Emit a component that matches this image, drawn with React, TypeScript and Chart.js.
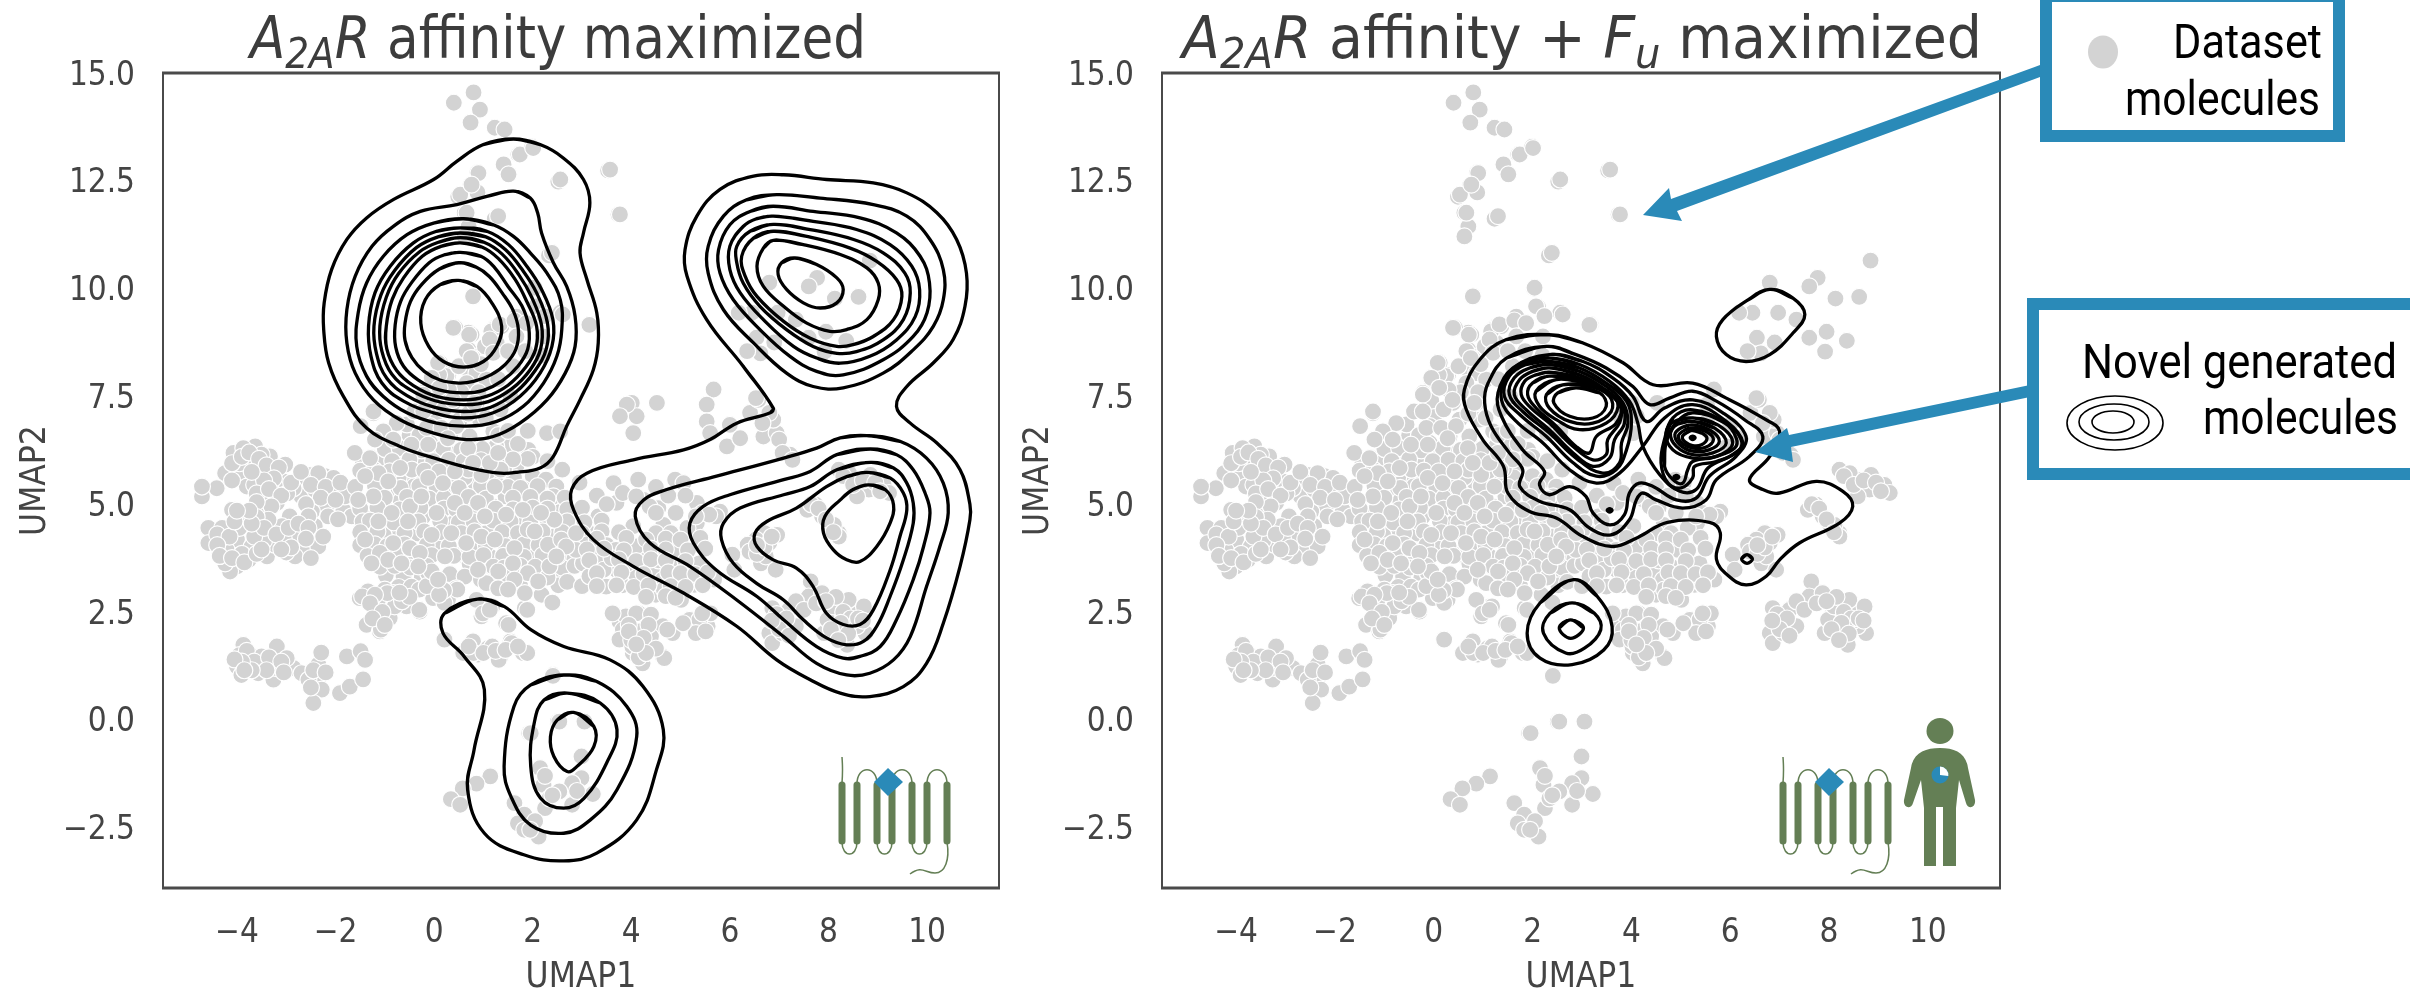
import React, { useEffect, useRef } from "react";
import { Chart, registerables } from "chart.js";

Chart.register(...registerables);

type Pt = number[];

const xTickValues = [-4, -2, 0, 2, 4, 6, 8, 10];
const yTickValues = [-2.5, 0, 2.5, 5, 7.5, 10, 12.5, 15];
const xRange = [-5.5, 11.46];
const yRange = [-3.9, 15];

// ---------- dataset molecules (same in both panels) ----------
const topPlume: Pt[] = [[0.8,14.55],[0.4,14.31],[0.93,14.15],[0.74,13.85],[1.23,13.73],[1.43,13.69],[1.99,13.29],[1.71,13.11],[1.41,12.88],[1.51,12.65],[0.88,12.69],[0.74,12.41],[0.88,12.23],[0.49,12.13],[2.52,12.48],[3.53,12.74],[0.62,11.76],[1.23,11.62],[3.74,11.72],[0.7,11.44],[0.62,11.21],[2.33,10.77],[8.84,10.65],[2.03,10.0],[0.8,9.81],[7.77,10.25],[7.6,10.05],[6.8,10.14],[8.13,9.77],[8.61,9.81],[7.95,9.0],[7.6,8.86],[8.36,8.79],[7.92,8.54],[6.54,8.86],[6.45,9.44],[6.97,9.44],[6.18,9.44],[7.34,9.28],[3.18,9.16],[2.56,9.44],[2.11,9.58],[1.67,9.35],[1.23,9.09],[0.4,9.07],[0.7,8.98],[0.09,8.28],[6.54,7.47],[6.62,8.5],[6.9,8.75],[6.35,8.55]];
const upperCentre: Pt[] = [[0.79,9.82],[2.04,10.02],[0.39,9.09],[0.71,8.93],[1.16,9.01],[1.33,9.17],[1.63,9.26],[1.87,9.2],[2.07,9.59],[2.24,9.36],[2.61,9.4],[3.15,9.16],[0.66,8.55],[0.79,8.39],[0.12,8.28],[-0.05,7.89],[0.25,7.97],[-0.22,7.58],[0.39,7.35],[0.86,7.35],[0.86,8.04],[1.13,8.82],[1.67,8.89],[2.21,8.89],[0.66,7.81],[0.05,7.12],[0.52,6.96],[-0.08,6.81],[-0.08,6.42],[0.32,6.57],[0.72,6.57],[1.13,5.96],[0.66,5.96],[0.12,5.88],[-0.15,5.57],[0.32,5.41],[0.76,5.49],[1.26,5.49],[0.18,4.8],[0.66,4.95],[1.2,4.95],[1.67,4.87],[2.14,4.64],[2.48,4.87],[1.6,4.33],[1.06,4.33],[0.66,4.49],[1.94,4.18],[2.41,4.25],[2.88,3.71],[1.67,3.63],[2.28,3.63],[1.13,3.79],[2.0,5.65],[2.27,5.57],[2.48,5.41],[3.83,5.26],[4.1,5.18],[1.67,5.88],[1.26,6.34],[0.93,6.96],[1.06,7.89],[1.2,8.51],[6.53,7.46],[6.8,7.12],[6.66,6.88],[7.0,6.5],[7.07,6.19],[7.27,6.03],[4.37,4.95],[5.72,4.72],[5.44,4.8]];
const leftPanelHints: Pt[] = [[3.57,12.76],[3.77,11.72],[2.56,12.53],[1.74,13.11],[2.01,13.26],[0.9,12.68],[0.53,12.18],[0.76,12.41],[0.66,11.76],[1.3,11.68],[2.39,10.83],[0.8,9.82],[3.16,9.16],[0.43,9.09],[0.76,8.93],[1.2,9.05],[0.7,8.58],[0.8,8.43],[1.37,9.13],[1.03,8.66],[1.27,8.74],[0.29,8.0],[0.73,8.04],[-1.23,7.11],[-1.6,6.19],[-1.26,6.07],[-0.96,6.65],[-0.45,6.42],[2.29,6.65],[1.54,6.38],[1.91,6.26],[1.2,6.69],[2.56,6.69],[3.77,7.04],[4.01,7.35],[4.11,7.04],[4.04,6.65],[0.73,6.38],[1.07,6.26],[3.91,7.31],[4.52,7.35],[3.77,7.04],[5.67,7.66],[5.53,7.31],[5.53,6.92],[5.6,6.65],[5.94,6.34],[6.0,6.84],[6.41,7.12],[6.58,7.42],[6.68,6.57],[6.21,6.53],[6.95,6.65],[6.88,6.96],[7.22,6.15],[3.64,5.49],[4.14,5.57],[4.89,5.57],[5.06,5.49],[5.33,5.03],[4.55,4.91],[4.65,4.52],[3.33,4.72],[3.7,5.03],[4.25,5.1],[4.04,4.49],[5.33,4.56],[5.8,4.83]];
const westUpper: Pt[] = [[-4.71,5.18],[-4.41,5.37],[-4.71,5.41],[-4.24,5.72],[-3.9,5.65],[-4.07,6.19],[-3.73,6.03],[-3.63,6.34],[-3.87,6.3],[-3.33,6.11],[-3.23,5.76],[-3.06,5.53],[-3.02,5.92],[-3.56,5.72],[-3.8,5.41],[-3.43,5.18],[-3.19,5.03],[-3.5,4.91],[-2.55,5.68],[-2.21,5.65],[-2.04,5.61],[-2.35,5.72],[-2.75,5.53],[-2.69,5.18],[-2.18,4.95],[-2.48,4.83],[-1.84,4.86],[-1.67,4.72],[-1.94,5.3],[-2.85,5.37],[-2.42,5.34],[-1.81,5.18],[-3.95,5.95],[-3.5,6.15],[-3.32,5.45],[-3.65,5.45],[-2.98,5.25],[-4.1,5.55],[-4.1,5.95],[-3.9,6.1],[-3.75,6.2],[-3.55,6.05],[-3.4,5.9],[-3.15,5.85],[-3.25,5.6],[-3.45,5.55],[-3.7,5.75],[-3.6,5.25],[-3.35,5.35],[-3.1,5.2],[-3.3,4.95],[-3.6,5.05],[-2.9,5.5],[-2.7,5.75],[-2.5,5.45],[-2.2,5.4],[-2.3,5.15],[-2.0,5.1],[-1.9,5.5],[-2.6,5.0],[-2.15,4.72],[-1.95,4.65],[-1.5,4.95]];
const westLower: Pt[] = [[-3.9,4.72],[-4.1,4.87],[-3.56,4.37],[-4.58,4.45],[-4.58,4.1],[-4.3,4.45],[-4.0,4.18],[-4.21,3.94],[-3.76,3.71],[-4.0,3.56],[-4.14,3.44],[-3.39,3.79],[-3.23,4.06],[-2.93,4.72],[-2.79,4.22],[-2.62,3.94],[-2.35,4.02],[-2.42,4.49],[-3.09,4.49],[-3.7,4.02],[-3.36,4.64],[-4.24,3.63],[-3.83,4.49],[-2.55,4.72],[-2.82,3.79],[-4.35,4.18],[-3.95,4.45],[-3.6,4.7],[-3.45,4.15],[-3.05,4.2],[-3.0,3.88],[-3.9,3.85],[-4.4,4.3],[-4.15,4.25],[-4.4,4.05],[-4.35,3.8],[-4.1,3.75],[-3.85,3.65],[-3.6,3.85],[-3.65,4.25],[-3.45,4.45],[-3.7,4.55],[-4.05,4.6],[-3.75,4.85],[-4.0,4.85],[-3.2,4.3],[-2.95,4.45],[-2.75,4.55],[-2.55,4.45],[-2.6,4.2],[-2.9,4.0],[-2.25,4.25],[-2.5,3.75],[-3.1,3.95],[-3.5,3.95]];
const southWest: Pt[] = [[-3.87,1.74],[-3.73,1.51],[-3.8,1.28],[-4.0,1.24],[-3.46,1.31],[-3.19,1.7],[-3.5,1.47],[-3.26,0.93],[-2.85,1.2],[-2.99,1.43],[-3.57,1.08],[-3.91,1.04],[-2.69,1.08],[-2.35,1.28],[-2.29,1.56],[-2.35,0.93],[-2.55,0.93],[-2.28,0.7],[-1.91,0.62],[-1.71,0.77],[-1.44,0.94],[-2.45,0.39],[-1.77,1.47],[-1.49,1.59],[-1.4,1.39],[-3.2,1.2],[-3.95,1.5],[-3.8,1.6],[-3.65,1.35],[-3.35,1.45],[-3.1,1.35],[-3.4,1.15],[-3.7,1.15],[-3.05,1.1],[-2.45,1.15],[-2.2,1.1],[-2.5,0.75],[-3.9,1.35],[-4.05,1.4],[-3.85,1.15]];
const centralSouth: Pt[] = [[-1.34,2.98],[-1.51,2.82],[-1.0,3.02],[-1.14,2.78],[-0.82,2.94],[-1.37,2.2],[-1.1,2.05],[-0.9,2.36],[-1.2,2.55],[-0.56,2.63],[-0.29,2.51],[-0.8,2.63],[-0.36,3.02],[-0.02,2.82],[0.28,2.78],[0.45,3.05],[0.08,3.13],[-0.12,3.4],[-0.46,3.09],[0.2,1.86],[0.59,1.55],[0.79,1.82],[0.89,1.51],[1.09,1.66],[1.35,1.47],[1.55,1.82],[1.8,1.55],[1.46,2.24],[1.84,2.59],[1.13,2.63],[0.86,2.78],[0.96,2.4],[2.41,1.04],[1.93,-0.31],[2.51,-0.04],[0.21,1.86],[0.8,1.55],[1.18,1.7],[1.57,1.78],[1.31,1.39],[1.89,1.55],[0.99,2.47],[1.18,2.63],[1.51,2.2],[1.89,2.55],[0.47,3.02],[-0.3,2.55],[-1.08,2.09],[-1.46,2.86],[-0.95,2.94],[-0.3,3.02],[0.21,2.71],[3.76,2.28],[4.15,2.47],[-1.2,2.9],[-1.3,2.7],[-1.05,2.5],[-1.25,2.35],[-1.0,2.2],[-0.65,2.75],[-0.5,2.85],[-0.15,3.1],[0.2,3.0],[0.1,2.9],[-0.7,2.95],[0.7,1.7],[1.0,1.55],[1.25,1.6],[1.45,1.62],[1.7,1.7]];
const centralBlock: Pt[] = [[0.08,8.28],[-0.05,7.93],[-0.22,7.54],[0.38,7.42],[0.11,7.7],[-0.22,7.15],[-1.23,7.15],[-1.49,6.81],[-0.76,6.88],[-1.03,6.69],[-1.2,6.5],[-0.83,6.5],[-0.46,6.38],[-0.12,6.38],[-0.15,6.77],[0.15,6.77],[0.45,6.81],[0.28,6.53],[0.69,6.3],[0.82,7.35],[0.75,8.39],[-1.61,6.19],[-1.3,6.07],[-0.69,5.84],[-1.13,5.72],[-1.4,5.65],[-0.93,5.53],[-0.12,5.61],[0.18,5.49],[0.42,5.76],[0.96,5.68],[1.13,5.96],[0.79,5.96],[1.3,6.19],[-1.23,5.18],[-1.54,5.1],[-0.86,4.8],[-0.49,4.95],[0.05,4.8],[-0.26,5.18],[0.42,5.03],[0.89,5.03],[1.23,5.41],[1.46,4.76],[1.03,4.72],[0.62,4.8],[-1.13,4.6],[-0.53,4.6],[-0.05,4.29],[0.35,4.33],[0.65,4.1],[0.96,4.25],[1.23,4.18],[1.63,3.98],[1.9,4.41],[2.31,4.06],[2.04,4.37],[2.44,4.64],[1.8,4.87],[2.17,4.8],[-1.4,4.18],[-0.83,4.1],[-0.49,3.98],[-1.1,3.87],[-1.27,3.63],[-0.93,3.71],[-0.66,3.63],[-0.29,3.87],[0.22,3.79],[-0.05,3.44],[-0.32,3.56],[0.08,3.25],[1.6,3.63],[1.3,3.44],[1.06,3.17],[0.89,3.48],[1.9,3.4],[1.63,3.25],[1.3,3.05],[2.11,3.21],[2.34,3.56],[1.13,2.55],[1.5,3.02],[1.84,2.94],[2.51,3.79]];
const centralGaps: Pt[] = [[-0.55,6.18],[-0.28,6.02],[0.08,6.15],[0.48,6.2],[-0.98,6.18],[-0.42,5.62],[-0.72,5.3],[-0.4,5.42],[0.02,5.28],[0.55,5.28],[-1.02,5.02],[-0.68,5.08],[-0.22,4.72],[0.3,4.72],[0.38,4.55],[-0.32,4.32],[-0.72,4.38],[-1.02,4.28],[-1.32,4.78],[0.1,4.05],[0.48,3.82],[0.72,3.62],[1.42,4.42],[1.68,4.58],[1.45,5.18],[1.82,5.35],[1.62,5.62],[1.42,5.82],[1.9,6.05],[-0.98,3.35],[-0.62,3.32],[-0.72,3.08],[0.32,3.38],[0.62,3.32],[1.12,3.48],[1.52,3.52],[2.05,3.82],[2.62,3.42],[2.52,3.12],[2.18,2.9],[2.4,2.72],[-0.72,5.62],[-1.08,6.0],[-0.3,6.6],[0.62,5.62],[2.1,5.12],[2.42,5.18],[2.8,4.62],[3.1,4.38],[2.72,4.28]];
const centralRowsUpper: Pt[] = [[-1.0,6.28],[-0.7,6.3],[-0.25,6.25],[0.18,6.3],[0.55,6.26],[0.98,6.28],[-1.45,6.02],[-0.85,6.0],[-0.5,6.04],[-0.02,6.0],[0.3,6.03],[0.6,6.0],[0.95,6.02],[1.35,6.0],[1.6,6.04],[-1.5,5.78],[-1.22,5.8],[-0.9,5.76],[-0.45,5.8],[-0.2,5.78],[0.1,5.76],[0.7,5.8],[1.1,5.76],[1.35,5.8],[-1.6,5.4],[-1.2,5.42],[-0.68,5.38],[-0.3,5.42],[0.05,5.4],[0.5,5.38],[0.95,5.42],[1.5,5.4],[1.75,5.38],[2.1,5.42],[-1.0,5.15],[-0.55,5.17],[-0.1,5.13],[0.2,5.15],[0.7,5.17],[1.05,5.13],[1.6,5.15],[1.95,5.17],[2.3,5.13],[2.65,5.15],[-1.5,4.9],[-1.15,4.92],[-0.7,4.88],[-0.28,4.92],[0.2,4.9],[0.45,4.88],[0.85,4.92],[1.25,4.9],[1.6,4.88],[2.0,4.92],[2.3,4.9],[2.7,4.88],[3.0,4.92]];
const centralRowsLower: Pt[] = [[-1.45,4.6],[-1.3,4.62],[-0.82,4.58],[-0.32,4.6],[0.12,4.62],[0.5,4.58],[0.8,4.6],[1.2,4.62],[1.55,4.6],[1.95,4.58],[2.3,4.62],[2.7,4.6],[3.05,4.58],[3.4,4.62],[-1.5,4.35],[-1.15,4.37],[-0.6,4.33],[-0.2,4.37],[0.15,4.35],[0.55,4.33],[0.82,4.37],[1.38,4.35],[1.7,4.33],[2.2,4.37],[2.6,4.35],[3.0,4.33],[3.4,4.37],[3.75,4.35],[-1.5,4.05],[-1.2,4.07],[-0.95,4.03],[-0.6,4.07],[-0.15,4.05],[0.3,4.03],[0.85,4.07],[1.05,4.05],[1.45,4.03],[1.82,4.07],[2.12,4.05],[2.5,4.03],[3.1,4.07],[3.5,4.05],[-1.35,3.8],[-0.75,3.82],[-0.45,3.78],[-0.05,3.82],[0.4,3.8],[0.72,3.78],[1.0,3.82],[1.4,3.8],[1.82,3.78],[2.2,3.82],[2.7,3.8],[3.1,3.78],[-1.1,3.55],[-0.8,3.57],[-0.48,3.53],[-0.15,3.57],[1.2,3.55],[1.42,3.53],[1.75,3.57],[2.05,3.55],[2.6,3.53],[2.85,3.57],[3.25,3.55],[3.6,3.53],[-0.25,3.3],[0.95,3.25],[1.2,3.2],[1.45,3.3],[1.75,3.1],[2.3,3.3],[2.7,3.2],[3.0,3.1]];
const upperFill: Pt[] = [[-0.5,6.6],[-0.55,6.85],[-0.4,7.15],[-0.05,7.4],[0.2,7.2],[0.55,7.6],[0.3,7.65],[0.1,8.0],[-0.9,6.25],[1.5,6.0],[1.3,6.6],[1.05,7.0],[1.5,6.7],[1.7,6.4],[1.9,6.7],[2.0,6.1],[2.3,6.0],[0.9,7.6],[0.7,7.1],[1.35,7.2],[1.55,7.5],[1.3,7.9],[1.6,8.2],[0.95,8.25],[0.5,8.2],[1.5,8.55],[1.85,8.55],[2.2,8.45],[2.6,5.8],[2.95,5.5],[3.3,5.2],[3.5,5.0],[4.5,5.4],[4.75,5.2],[5.1,5.2]];
const midEast: Pt[] = [[4.47,3.36],[4.8,3.56],[5.14,3.56],[4.94,3.94],[5.28,3.13],[5.68,3.25],[5.01,2.78],[4.1,3.36],[4.23,3.02],[4.5,2.9],[5.38,3.63],[5.45,3.25],[5.14,3.17],[4.64,3.25],[4.26,3.71],[3.93,3.63],[3.69,3.48],[3.42,3.44],[3.29,3.79],[3.02,3.63],[3.49,3.09],[3.15,3.33],[2.88,3.94],[2.58,4.18],[2.68,4.02],[2.48,3.79],[4.5,4.33],[4.8,4.33],[5.14,4.45],[5.58,4.76],[5.31,4.72],[4.9,4.8],[4.5,4.8],[4.1,4.02],[3.69,3.94],[3.29,4.02],[2.88,4.33],[3.44,3.48],[3.82,3.12],[3.6,3.75],[4.55,3.7],[4.92,3.28],[4.66,3.02],[3.3,4.2],[3.9,4.22],[4.3,4.18],[4.7,4.2],[5.0,4.18],[5.4,4.22],[3.1,3.95],[3.45,3.97],[3.85,3.93],[4.4,3.97],[4.7,3.95],[5.15,3.93],[5.5,3.97],[3.15,3.7],[3.75,3.72],[4.1,3.68],[4.4,3.72],[4.7,3.7],[5.1,3.68],[3.3,3.4],[3.8,3.42],[4.25,3.38],[4.75,3.42],[5.0,3.4],[5.3,3.38],[5.55,3.42],[3.3,3.1],[3.7,3.12],[4.05,3.08],[4.35,3.12],[4.8,3.1],[5.1,3.08],[5.45,3.12],[4.3,2.85],[4.7,2.87],[4.9,2.83]];
const southCentre: Pt[] = [[5.45,2.47],[5.18,2.32],[5.55,2.17],[5.61,2.47],[5.38,2.32],[5.31,2.01],[4.16,2.05],[3.89,2.4],[4.1,2.47],[4.4,2.44],[4.64,2.17],[4.84,2.01],[4.2,1.62],[4.64,1.47],[4.03,1.55],[4.23,1.31],[3.62,2.47],[3.83,2.09],[4.4,1.93],[3.76,1.86],[4.22,1.59],[4.67,1.43],[4.02,1.7],[4.73,2.09],[5.44,2.47],[5.51,2.05],[5.05,2.24],[3.95,2.2],[4.35,2.2],[4.0,1.85],[4.25,1.9],[4.5,1.65],[4.15,1.45],[3.95,2.05],[4.3,1.55],[4.1,1.75]];
const northEast: Pt[] = [[8.21,5.8],[8.58,5.57],[8.82,5.34],[9.12,5.45],[9.23,5.26],[8.85,5.68],[8.42,5.72],[8.58,5.18],[7.74,4.99],[7.57,4.87],[8.0,4.56],[8.21,4.33],[7.87,4.72],[8.11,4.52],[8.21,4.25],[6.7,4.33],[6.53,4.18],[6.96,4.29],[6.36,4.06],[6.05,3.83],[6.63,3.63],[6.8,4.1],[6.09,3.48],[6.93,3.48],[6.73,3.79],[6.4,3.9],[6.55,3.85],[6.7,4.0],[6.85,4.25],[6.55,4.05],[7.65,5.0],[7.8,4.9],[7.95,4.65],[8.1,4.35],[8.3,5.65],[8.5,5.45],[8.7,5.55],[8.95,5.5],[9.05,5.3]];
const southEast: Pt[] = [[7.07,2.24],[6.86,2.59],[7.2,2.55],[6.8,2.01],[7.34,2.17],[7.64,3.21],[7.6,2.86],[7.87,2.94],[8.08,2.59],[8.58,2.55],[8.41,2.78],[8.72,2.63],[8.25,2.05],[7.91,2.01],[8.38,1.74],[8.75,2.01],[8.58,2.17],[7.98,2.32],[7.34,2.75],[6.86,1.78],[7.07,2.01],[6.95,2.32],[8.1,2.63],[8.5,2.3],[6.95,2.45],[7.15,2.35],[7.0,2.1],[6.85,2.3],[7.2,1.95],[7.5,2.55],[7.75,2.7],[8.15,2.85],[8.3,2.5],[8.45,2.35],[8.25,2.25],[8.05,2.1],[8.6,2.35],[8.4,2.0],[7.95,2.75],[8.7,2.3],[8.2,1.85]];
const bottomCluster: Pt[] = [[2.54,-0.04],[3.05,-0.04],[1.96,-0.31],[2.99,-0.85],[2.15,-1.12],[2.99,-1.35],[2.22,-1.51],[2.8,-1.47],[3.22,-1.72],[2.54,-1.66],[1.14,-1.31],[0.86,-1.48],[0.58,-1.59],[0.34,-1.84],[0.53,-1.97],[1.63,-1.93],[2.8,-1.97],[2.25,-2.05],[1.83,-2.2],[1.7,-2.4],[1.83,-2.55],[2.12,-2.71],[2.41,1.02],[2.34,-1.82],[2.25,-1.3],[2.4,-1.75],[2.9,-1.65],[2.05,-2.35],[1.95,-2.55]];

// ---------- A2AR affinity maximized: contour rings ----------
const affinityPeakWest: Pt[][] = [
  [[1.61,13.47],[2.15,13.34],[2.62,13.03],[3.03,12.53],[3.16,11.99],[3.03,11.29],[2.96,10.83],[3.1,10.21],[3.3,9.44],[3.33,8.74],[3.23,8.12],[2.96,7.42],[2.69,6.81],[2.42,6.11],[2.15,5.84],[1.68,5.74],[1.34,5.72],[0.8,5.82],[0.12,6.03],[-0.69,6.34],[-1.37,6.77],[-1.84,7.5],[-2.14,8.28],[-2.24,9.05],[-2.23,9.67],[-2.08,10.44],[-1.77,11.14],[-1.37,11.64],[-0.82,12.07],[-0.01,12.53],[0.46,12.95],[1.0,13.34]],
  [[1.61,12.26],[1.95,12.1],[2.1,11.76],[2.18,11.29],[2.42,10.6],[2.69,10.05],[2.86,9.36],[2.86,8.66],[2.66,8.04],[2.29,7.42],[1.74,6.88],[1.2,6.57],[0.66,6.5],[-0.01,6.65],[-0.69,6.96],[-1.23,7.42],[-1.6,8.04],[-1.77,8.74],[-1.77,9.51],[-1.6,10.29],[-1.26,10.98],[-0.82,11.45],[-0.28,11.79],[0.46,11.95],[1.07,12.14]],
  [[0.6,11.62],[1.2,11.48],[1.61,11.21],[1.95,10.83],[2.29,10.36],[2.56,9.74],[2.59,9.05],[2.49,8.43],[2.22,7.81],[1.81,7.27],[1.27,6.92],[0.66,6.81],[0.05,6.88],[-0.55,7.12],[-1.03,7.5],[-1.37,7.97],[-1.57,8.66],[-1.54,9.44],[-1.37,10.13],[-1.03,10.75],[-0.55,11.25],[-0.01,11.52]],
  [[0.53,11.41],[1.07,11.33],[1.51,11.02],[1.88,10.52],[2.18,9.98],[2.41,9.28],[2.39,8.66],[2.15,8.04],[1.74,7.5],[1.2,7.12],[0.6,7.0],[-0.01,7.12],[-0.62,7.39],[-1.06,7.81],[-1.28,8.43],[-1.33,9.13],[-1.2,9.9],[-0.89,10.52],[-0.42,11.06],[0.05,11.33]],
  [[0.53,11.29],[1.05,11.2],[1.45,10.9],[1.8,10.42],[2.08,9.9],[2.3,9.2],[2.28,8.62],[2.05,8.1],[1.66,7.6],[1.15,7.25],[0.6,7.15],[0.0,7.25],[-0.55,7.52],[-0.96,7.92],[-1.17,8.5],[-1.22,9.13],[-1.08,9.85],[-0.8,10.42],[-0.36,10.95],[0.08,11.2]],
  [[0.53,11.18],[1.0,11.08],[1.38,10.8],[1.72,10.32],[1.98,9.8],[2.18,9.15],[2.16,8.6],[1.95,8.12],[1.58,7.68],[1.1,7.38],[0.6,7.31],[0.02,7.4],[-0.48,7.65],[-0.86,8.02],[-1.06,8.55],[-1.1,9.13],[-0.97,9.8],[-0.72,10.35],[-0.3,10.85],[0.1,11.08]],
  [[0.53,11.06],[0.98,10.96],[1.3,10.7],[1.64,10.22],[1.88,9.7],[2.08,9.12],[2.06,8.6],[1.86,8.18],[1.5,7.76],[1.06,7.5],[0.6,7.42],[0.05,7.5],[-0.42,7.75],[-0.76,8.1],[-0.96,8.6],[-0.97,9.13],[-0.85,9.75],[-0.62,10.25],[-0.24,10.75],[0.14,10.98]],
  [[0.53,10.84],[0.95,10.75],[1.22,10.5],[1.5,10.05],[1.78,9.6],[1.92,9.1],[1.9,8.6],[1.7,8.2],[1.38,7.86],[1.0,7.64],[0.6,7.58],[0.1,7.65],[-0.32,7.88],[-0.62,8.2],[-0.78,8.65],[-0.79,9.16],[-0.68,9.7],[-0.45,10.15],[-0.1,10.6],[0.2,10.78]],
  [[0.5,10.6],[0.85,10.5],[1.12,10.28],[1.38,9.9],[1.6,9.5],[1.71,9.05],[1.66,8.6],[1.45,8.25],[1.15,8.0],[0.8,7.85],[0.5,7.81],[0.12,7.88],[-0.2,8.08],[-0.45,8.4],[-0.59,8.8],[-0.59,9.2],[-0.48,9.7],[-0.25,10.1],[0.1,10.45]],
  [[0.49,10.19],[0.87,10.05],[1.17,9.67],[1.37,9.13],[1.27,8.66],[1.0,8.31],[0.6,8.18],[0.19,8.31],[-0.11,8.66],[-0.27,9.2],[-0.18,9.74],[0.12,10.09]],
];
const affinityEastEnvelope: Pt[][] = [
  [[6.88,7.23],[6.27,8.2],[5.53,9.28],[5.13,10.29],[5.09,10.9],[5.33,11.68],[5.8,12.3],[6.48,12.61],[7.09,12.64],[7.96,12.53],[8.91,12.45],[9.59,12.22],[10.2,11.76],[10.6,11.14],[10.8,10.36],[10.77,9.59],[10.53,8.82],[10.13,8.28],[9.59,7.73],[9.38,7.27],[9.66,6.88],[10.2,6.42],[10.67,5.8],[10.87,5.0],[10.87,4.64],[10.67,3.56],[10.33,2.24],[9.99,1.31],[9.52,0.77],[8.84,0.54],[8.24,0.62],[7.63,0.93],[6.95,1.39],[6.14,2.17],[5.06,2.94],[4.04,3.56],[3.23,4.18],[2.83,4.87],[2.79,5.34],[3.1,5.72],[4.04,6.03],[5.06,6.26],[5.6,6.5],[6.14,6.88],[6.82,7.12]],
];
const affinityPeakNorthEast: Pt[][] = [
  [[6.95,12.18],[7.83,12.1],[8.91,11.95],[9.59,11.68],[10.06,11.14],[10.33,10.44],[10.33,9.74],[10.13,9.13],[9.72,8.58],[9.11,8.04],[8.3,7.7],[7.69,7.73],[7.15,8.04],[6.48,8.74],[5.87,9.51],[5.56,10.36],[5.56,10.98],[5.87,11.68],[6.34,12.06]],
  [[6.88,11.91],[7.69,11.79],[8.64,11.64],[9.38,11.29],[9.86,10.75],[10.05,10.13],[10.0,9.44],[9.72,8.89],[9.11,8.35],[8.3,8.0],[7.76,8.08],[7.22,8.43],[6.61,9.05],[6.07,9.74],[5.8,10.36],[5.77,10.9],[6.0,11.48],[6.41,11.79]],
  [[6.88,11.68],[7.69,11.56],[8.57,11.37],[9.25,11.02],[9.69,10.52],[9.85,9.97],[9.76,9.35],[9.38,8.81],[8.84,8.43],[8.24,8.27],[7.76,8.39],[7.29,8.66],[6.68,9.28],[6.21,9.9],[6.0,10.44],[6.0,10.98],[6.27,11.44],[6.54,11.62]],
  [[6.88,11.49],[7.63,11.37],[8.51,11.14],[9.11,10.83],[9.55,10.36],[9.66,9.9],[9.52,9.28],[9.11,8.81],[8.57,8.54],[8.17,8.5],[7.69,8.66],[7.15,9.05],[6.61,9.59],[6.27,10.13],[6.14,10.6],[6.14,10.98],[6.41,11.33]],
  [[6.88,11.33],[7.56,11.21],[8.44,10.94],[8.98,10.63],[9.38,10.21],[9.49,9.82],[9.32,9.28],[8.91,8.89],[8.5,8.7],[8.17,8.66],[7.63,8.85],[7.09,9.24],[6.55,9.82],[6.31,10.29],[6.24,10.75],[6.48,11.17]],
  [[6.88,11.12],[7.49,11.02],[8.24,10.79],[8.78,10.48],[9.01,10.13],[9.01,9.74],[8.78,9.28],[8.37,9.05],[8.03,9.01],[7.56,9.2],[7.09,9.59],[6.68,10.05],[6.55,10.52],[6.68,10.94]],
  [[7.32,10.71],[7.76,10.56],[8.17,10.25],[8.3,9.98],[8.17,9.67],[7.83,9.55],[7.49,9.67],[7.15,9.98],[6.98,10.32],[7.05,10.6]],
];
const affinityPeakSouthEast: Pt[][] = [
  [[8.78,6.59],[9.45,6.46],[9.99,6.07],[10.33,5.49],[10.43,4.8],[10.26,4.02],[9.99,3.09],[9.66,1.93],[9.32,1.39],[8.84,1.08],[8.37,1.04],[7.76,1.31],[7.09,1.93],[6.14,2.78],[5.19,3.56],[4.38,4.1],[4.08,4.72],[4.25,5.1],[4.72,5.34],[5.73,5.65],[7.09,6.07],[7.76,6.3],[8.24,6.54]],
  [[8.85,6.28],[9.38,6.15],[9.72,5.8],[9.96,5.26],[10.06,4.8],[9.93,4.02],[9.72,3.25],[9.38,2.32],[9.05,1.7],[8.64,1.47],[8.3,1.43],[7.76,1.7],[7.09,2.32],[6.55,2.86],[5.73,3.47],[5.26,4.1],[5.19,4.56],[5.46,4.95],[6.0,5.22],[7.09,5.57],[7.63,5.76],[8.17,6.15]],
  [[8.85,5.97],[9.32,5.84],[9.59,5.49],[9.72,5.03],[9.72,4.56],[9.52,3.71],[9.25,2.86],[8.98,2.17],[8.71,1.82],[8.37,1.74],[7.96,1.9],[7.49,2.32],[7.09,2.78],[6.55,3.16],[6.07,3.63],[5.83,4.18],[5.87,4.56],[6.21,4.91],[7.09,5.22],[7.63,5.41],[8.17,5.8]],
  [[8.78,5.74],[9.25,5.61],[9.52,5.26],[9.59,4.87],[9.45,4.25],[9.25,3.47],[8.91,2.55],[8.64,2.21],[8.3,2.21],[7.96,2.47],[7.69,3.09],[7.35,3.52],[6.88,3.71],[6.55,4.02],[6.51,4.33],[6.75,4.6],[7.35,4.91],[7.96,5.41],[8.37,5.64]],
  [[8.81,5.45],[9.15,5.34],[9.32,4.99],[9.25,4.56],[8.98,4.02],[8.64,3.67],[8.37,3.71],[8.1,3.94],[7.9,4.33],[7.93,4.72],[8.24,5.1],[8.5,5.34]],
];
const affinityPeakSouth: Pt[][] = [
  [[0.88,2.8],[1.42,2.63],[1.96,2.09],[2.63,1.7],[3.57,1.39],[4.24,0.77],[4.65,-0.23],[4.51,-1.16],[4.11,-2.32],[3.3,-3.09],[2.63,-3.27],[1.82,-3.13],[1.02,-2.63],[0.68,-1.62],[0.81,-0.7],[1.02,0.7],[0.61,1.47],[0.18,2.01],[0.21,2.47]],
  [[2.63,1.04],[3.3,0.89],[3.91,0.31],[4.11,-0.39],[3.71,-1.62],[3.17,-2.32],[2.63,-2.63],[1.96,-2.44],[1.56,-1.78],[1.42,-1.08],[1.62,0.31],[1.96,0.81]],
  [[2.7,0.62],[3.37,0.39],[3.71,-0.23],[3.5,-1.0],[3.04,-1.82],[2.63,-2.05],[2.16,-1.82],[1.96,-1.08],[2.03,-0.08],[2.23,0.46]],
  [[2.83,0.17],[3.24,-0.15],[3.24,-0.62],[2.9,-1.08],[2.7,-1.2],[2.43,-0.85],[2.36,-0.39],[2.5,0.0]],
];

// ---------- A2AR affinity + Fu maximized: contour rings ----------
const fuEnvelope: Pt[][] = [
  [[2.34,8.93],[3.02,8.74],[3.83,8.28],[4.44,7.77],[5.24,7.81],[5.92,7.46],[6.66,7.0],[7.0,6.69],[6.8,6.11],[6.39,5.57],[6.66,5.34],[7.0,5.26],[7.74,5.53],[8.28,5.3],[8.48,4.95],[8.21,4.56],[7.4,4.1],[7.0,3.71],[6.73,3.33],[6.32,3.13],[5.95,3.35],[5.72,3.73],[5.8,4.33],[5.58,4.58],[4.73,4.58],[4.13,4.23],[3.62,4.02],[3.02,4.25],[2.48,4.68],[1.94,4.83],[1.5,5.26],[1.41,5.88],[0.99,6.5],[0.66,7.19],[0.62,7.66],[0.93,8.35],[1.47,8.82]],
  [[2.28,8.66],[2.88,8.47],[3.49,8.16],[4.03,7.73],[4.37,7.31],[4.77,7.46],[5.24,7.62],[5.72,7.39],[6.29,6.96],[6.66,6.57],[6.39,6.11],[5.72,5.57],[5.51,5.1],[5.04,4.91],[4.5,5.1],[4.23,5.26],[4.1,5.1],[3.96,4.64],[3.59,4.29],[3.15,4.45],[2.75,4.87],[2.14,5.07],[1.74,5.41],[1.8,5.8],[1.53,6.19],[1.16,6.81],[1.03,7.35],[1.1,7.81],[1.47,8.39]],
  [[2.34,8.47],[3.02,8.31],[3.62,7.93],[4.03,7.5],[4.3,6.92],[4.67,7.23],[5.24,7.42],[5.85,7.12],[6.32,6.57],[6.12,6.11],[5.58,5.65],[5.31,5.14],[4.91,5.1],[4.44,5.41],[4.16,5.49],[3.96,5.26],[3.86,4.76],[3.56,4.52],[3.22,4.8],[3.08,5.18],[2.75,5.41],[2.34,5.22],[2.14,5.45],[2.24,5.76],[1.8,6.26],[1.37,7.04],[1.3,7.58],[1.6,8.16]],
  [[2.34,8.39],[2.95,8.24],[3.56,7.85],[3.96,7.39],[4.13,6.88],[4.23,6.34],[4.57,5.69],[4.98,5.3],[5.31,5.34],[5.55,5.84],[6.05,6.15],[6.26,6.42],[5.92,6.92],[5.24,7.31],[4.67,7.0],[4.23,6.34],[3.76,5.72],[3.29,5.49],[2.75,5.8],[2.21,6.42],[1.67,6.92],[1.37,7.42],[1.47,7.97],[1.8,8.28]],
];
const fuLobeWest: Pt[][] = [
  [[2.34,8.31],[2.95,8.16],[3.49,7.81],[3.9,7.39],[4.0,6.88],[3.9,6.26],[3.69,5.8],[3.29,5.65],[2.82,5.96],[2.28,6.57],[1.74,7.08],[1.43,7.5],[1.53,7.97],[1.87,8.24]],
  [[2.34,8.24],[2.95,8.08],[3.49,7.73],[3.83,7.35],[3.93,6.88],[3.8,6.42],[3.76,5.96],[3.42,5.72],[2.88,6.07],[2.34,6.65],[1.8,7.15],[1.53,7.54],[1.63,7.93],[1.94,8.16]],
  [[2.34,8.16],[2.95,8.0],[3.42,7.7],[3.8,7.31],[3.86,6.88],[3.66,6.5],[3.56,6.07],[3.22,5.88],[2.82,6.19],[2.34,6.73],[1.87,7.19],[1.63,7.54],[1.74,7.89],[2.0,8.08]],
  [[2.34,8.06],[2.95,7.93],[3.42,7.66],[3.76,7.31],[3.77,6.92],[3.52,6.5],[3.49,6.15],[3.22,6.03],[2.82,6.34],[2.34,6.88],[1.97,7.23],[1.77,7.54],[1.84,7.85],[2.07,8.0]],
  [[2.34,7.97],[2.95,7.87],[3.49,7.62],[3.79,7.31],[3.69,6.88],[3.29,6.57],[3.15,6.19],[2.88,6.34],[2.48,6.81],[2.07,7.23],[1.9,7.54],[2.0,7.81]],
  [[2.48,7.89],[3.08,7.81],[3.56,7.58],[3.73,7.27],[3.49,6.88],[2.95,6.73],[2.48,6.96],[2.14,7.27],[2.07,7.62]],
  [[2.61,7.77],[3.15,7.73],[3.56,7.5],[3.59,7.15],[3.22,6.88],[2.75,6.92],[2.34,7.23],[2.28,7.54]],
  [[2.88,7.7],[3.36,7.58],[3.49,7.27],[3.22,7.0],[2.75,7.04],[2.43,7.35],[2.51,7.58]],
];
const fuLobeEast: Pt[][] = [
  [[4.67,6.5],[4.6,5.96],[4.74,5.49],[5.01,5.38],[5.24,5.61],[5.28,5.88],[5.72,5.99],[6.16,6.23],[6.22,6.5],[5.92,6.88],[5.24,7.19],[4.84,7.0]],
  [[4.7,6.42],[4.67,5.88],[4.84,5.57],[5.04,5.49],[5.14,5.8],[5.24,5.99],[5.72,6.11],[6.09,6.3],[6.12,6.54],[5.89,6.88],[5.24,7.12],[4.87,6.84]],
  [[5.24,7.0],[5.75,6.84],[6.05,6.42],[5.72,6.11],[5.24,6.07],[4.84,6.26],[4.7,6.65],[4.87,6.92]],
  [[5.24,6.92],[5.68,6.77],[5.92,6.42],[5.65,6.19],[5.24,6.15],[4.91,6.34],[4.79,6.65],[4.94,6.86]],
  [[5.24,6.84],[5.6,6.71],[5.78,6.46],[5.57,6.26],[5.24,6.23],[4.98,6.38],[4.88,6.62],[5.02,6.78]],
  [[5.24,6.77],[5.52,6.68],[5.66,6.5],[5.5,6.32],[5.24,6.3],[5.04,6.4],[4.95,6.58],[5.08,6.72]],
  [[5.24,6.71],[5.44,6.64],[5.53,6.52],[5.42,6.38],[5.24,6.36],[5.09,6.44],[5.03,6.56],[5.12,6.66]],
];
const fuSmallPeaks: Pt[][] = [
  [[5.24,6.58],[5.29,6.54],[5.24,6.5],[5.19,6.54]],
  [[4.91,5.67],[4.96,5.63],[4.91,5.59],[4.86,5.63]],
  [[3.56,4.9],[3.61,4.86],[3.56,4.82],[3.51,4.86]],
  [[6.34,3.83],[6.45,3.73],[6.34,3.63],[6.23,3.73]],
];
const fuNorthIsland: Pt[][] = [
  [[6.8,9.98],[7.27,9.78],[7.51,9.4],[7.27,8.97],[6.8,8.47],[6.32,8.31],[5.92,8.47],[5.72,8.89],[5.85,9.28],[6.32,9.71]],
];
const fuSouthIsland: Pt[][] = [
  [[2.83,3.25],[3.31,2.86],[3.61,2.16],[3.44,1.62],[2.8,1.28],[2.15,1.43],[1.89,2.01],[2.15,2.71]],
  [[2.8,2.71],[3.25,2.47],[3.38,2.09],[3.05,1.66],[2.67,1.55],[2.22,2.01],[2.35,2.47]],
  [[2.77,2.32],[3.03,2.13],[2.77,1.89],[2.54,2.13]],
];

const datasetMolecules: Pt[] = [
  ...topPlume, ...leftPanelHints, ...upperCentre, ...upperFill, ...westUpper, ...westLower, ...southWest,
  ...centralGaps, ...centralRowsUpper, ...centralRowsLower, ...centralSouth, ...centralBlock, ...midEast, ...southCentre, ...northEast,
  ...southEast, ...bottomCluster,
];
const affinityRings = [...affinityPeakWest, ...affinityEastEnvelope, ...affinityPeakNorthEast, ...affinityPeakSouthEast, ...affinityPeakSouth];
const fuRings = [...fuEnvelope, ...fuLobeWest, ...fuLobeEast, ...fuSmallPeaks, ...fuNorthIsland, ...fuSouthIsland];

const GREY = "#d3d3d3";
const INK = "#444444";
const BLUE = "#2a8ab8";
const GREEN = "#647f55";
const TICK_FONT = "'DejaVu Sans Condensed','DejaVu Sans',sans-serif";

const closeRing = (ring: Pt[]) =>
  [ring[ring.length - 1], ...ring, ring[0], ring[1]].map(([x, y]) => ({ x, y }));

const framePlugin = {
  id: "frame",
  afterDatasetsDraw(chart: any) {
    const { ctx, chartArea: a } = chart;
    ctx.save();
    ctx.strokeStyle = "#4a4a4a";
    ctx.lineWidth = 3;
    ctx.beginPath();
    ctx.moveTo(a.left - 1, a.top);
    ctx.lineTo(a.right + 1, a.top);
    ctx.moveTo(a.left - 1, a.bottom);
    ctx.lineTo(a.right + 1, a.bottom);
    ctx.stroke();
    ctx.lineWidth = 2;
    ctx.beginPath();
    ctx.moveTo(a.left, a.top);
    ctx.lineTo(a.left, a.bottom);
    ctx.moveTo(a.right, a.top);
    ctx.lineTo(a.right, a.bottom);
    ctx.stroke();
    ctx.restore();
  },
};

function makeChart(canvas: HTMLCanvasElement, rings: Pt[][], leftGutter: number, rightPad: number, yTitlePad: number) {
  return new Chart(canvas, {
    type: "scatter",
    data: {
      datasets: [
        ...rings.map((ring) => ({
          data: closeRing(ring),
          showLine: true,
          tension: 0.4,
          borderColor: "#000000",
          borderWidth: 3.3,
          pointRadius: 0,
          fill: false,
          order: 1,
        })),
        {
          data: datasetMolecules.map(([x, y]) => ({ x, y })),
          pointRadius: 8.5,
          pointBackgroundColor: GREY,
          pointBorderColor: "#ffffff",
          pointBorderWidth: 1.2,
          order: 2,
        },
      ] as any,
    },
    options: {
      animation: false,
      responsive: false,
      maintainAspectRatio: false,
      layout: { padding: { left: 0, right: rightPad, top: 73, bottom: 0 } },
      plugins: { legend: { display: false }, tooltip: { enabled: false }, title: { display: false } },
      scales: {
        x: {
          type: "linear",
          min: xRange[0],
          max: xRange[1],
          grid: { display: false, drawTicks: false },
          border: { display: false },
          afterFit: (s: any) => { s.height = 102; },
          afterBuildTicks: (s: any) => { s.ticks = xTickValues.map((value) => ({ value })); },
          ticks: {
            padding: 26,
            color: INK,
            autoSkip: false,
            maxRotation: 0,
            font: { family: TICK_FONT, size: 33 },
            callback: (v: any) => String(v).replace("-", "\u2212"),
          },
          title: {
            display: true,
            text: "UMAP1",
            color: INK,
            padding: { top: 0, bottom: -5 },
            font: { family: TICK_FONT, size: 35, lineHeight: 1 },
          },
        },
        y: {
          type: "linear",
          min: yRange[0],
          max: yRange[1],
          grid: { display: false, drawTicks: false },
          border: { display: false },
          afterFit: (s: any) => { s.width = leftGutter; },
          afterBuildTicks: (s: any) => { s.ticks = yTickValues.map((value) => ({ value })); },
          ticks: {
            padding: 28,
            labelOffset: 3,
            color: INK,
            autoSkip: false,
            font: { family: TICK_FONT, size: 33 },
            callback: (v: any) => Number(v).toFixed(1).replace("-", "\u2212"),
          },
          title: {
            display: true,
            text: "UMAP2",
            color: INK,
            padding: { top: yTitlePad, bottom: 0 },
            font: { family: TICK_FONT, size: 35, lineHeight: 1 },
          },
        },
      },
    } as any,
    plugins: [framePlugin],
  });
}

function Receptor({ dx }: { dx: number }) {
  const bars = [842, 857, 877, 892, 912, 927, 947];
  return (
    <g transform={`translate(${dx},0)`}>
      {bars.map((x) => (
        <line key={x} x1={x} x2={x} y1={785} y2={841} stroke={GREEN} strokeWidth={7} strokeLinecap="round" />
      ))}
      <g fill="none" stroke={GREEN} strokeWidth={1.5}>
        <path d="M842 757 Q843 770 842 783" />
        <path d="M857 784 C857 765 877 765 877 784" />
        <path d="M892 784 C892 765 912 765 912 784" />
        <path d="M927 784 C927 765 947 765 947 784" />
        <path d="M842 842 C842 858 857 858 857 842" />
        <path d="M877 842 C877 858 892 858 892 842" />
        <path d="M912 842 C912 858 927 858 927 842" />
        <path d="M947 842 C950 860 945 873 935 873 C925 873 922 865 910 874" />
      </g>
      <path d="M888 768 L903 782 L888 796 L874 782 Z" fill={BLUE} />
    </g>
  );
}

function Callouts() {
  const condensed = "'Liberation Sans Narrow','Roboto','Liberation Sans',sans-serif";
  return (
    <svg width={2410} height={990} style={{ position: "absolute", left: 0, top: 0, pointerEvents: "none" }}>
      <text x={250} y={58} textLength={616} lengthAdjust="spacingAndGlyphs" fontFamily="'DejaVu Sans',sans-serif" fontSize={58} fill="#3c3c3c">
        <tspan fontStyle="italic">A</tspan>
        <tspan fontStyle="italic" fontSize={42} dy={10}>2A</tspan>
        <tspan fontStyle="italic" dy={-10}>R</tspan>
        <tspan> affinity maximized</tspan>
      </text>
      <text x={1182} y={58} textLength={800} lengthAdjust="spacingAndGlyphs" fontFamily="'DejaVu Sans',sans-serif" fontSize={58} fill="#3c3c3c">
        <tspan fontStyle="italic">A</tspan>
        <tspan fontStyle="italic" fontSize={42} dy={10}>2A</tspan>
        <tspan fontStyle="italic" dy={-10}>R</tspan>
        <tspan> affinity + </tspan>
        <tspan fontStyle="italic">F</tspan>
        <tspan fontStyle="italic" fontSize={42} dy={10}>u</tspan>
        <tspan dy={-10}> maximized</tspan>
      </text>

      <Receptor dx={0} />
      <Receptor dx={941} />
      <g fill={GREEN}>
        <ellipse cx={1940} cy={731} rx={13.5} ry={13} />
        <path d="M1940 748 C1955 748 1966 753 1968 768 L1975 800 C1976 808 1968 810 1966 803 L1959 780 L1956 808 L1956 866 L1943 866 L1943 807 L1936 807 L1936 866 L1924 866 L1924 808 L1921 780 L1913 803 C1911 810 1903 808 1904 800 L1911 768 C1913 753 1925 748 1940 748 Z" />
      </g>
      <circle cx={1940} cy={775} r={8.5} fill={BLUE} />
      <path d="M1940 775 L1940 766.5 A8.5 8.5 0 0 1 1948.3 776 Z" fill="#ffffff" />

      <g fill={BLUE} stroke="none">
        <path d="M2040 65 L1671 199 L1669 188 L1643 215 L1682 221 L1677 211 L2040 77 Z" />
        <path d="M2030 385 L1789 435 L1787 428 L1755 452 L1793 462 L1791 447 L2030 397 Z" />
      </g>
      <rect x={2046} y={-4} width={293} height={140} fill="#ffffff" stroke={BLUE} strokeWidth={12} />
      <rect x={2033} y={304} width={400} height={170} fill="#ffffff" stroke={BLUE} strokeWidth={12} />

      <ellipse cx={2103} cy={52} rx={15} ry={16.5} fill={GREY} />
      <g fontFamily={condensed} fontSize={49} fill="#000000">
        <text x={2173} y={58} textLength={149} lengthAdjust="spacingAndGlyphs">Dataset</text>
        <text x={2125} y={115} textLength={195} lengthAdjust="spacingAndGlyphs">molecules</text>
        <text x={2082} y={378} textLength={315} lengthAdjust="spacingAndGlyphs">Novel generated</text>
        <text x={2203} y={434} textLength={195} lengthAdjust="spacingAndGlyphs">molecules</text>
      </g>
      <g fill="none" stroke="#000000" strokeWidth={1.6}>
        <ellipse cx={2115} cy={423} rx={48} ry={27} />
        <ellipse cx={2114} cy={422} rx={35} ry={18} />
        <ellipse cx={2113} cy={422} rx={21} ry={11} />
      </g>
    </svg>
  );
}

export default function App() {
  const leftRef = useRef<HTMLCanvasElement>(null);
  const rightRef = useRef<HTMLCanvasElement>(null);
  useEffect(() => {
    const a = makeChart(leftRef.current!, affinityRings, 163, 11, 18);
    const b = makeChart(rightRef.current!, fuRings, 152, 50, 11);
    return () => {
      a.destroy();
      b.destroy();
    };
  }, []);
  return (
    <div style={{ position: "absolute", left: 0, top: 0, width: 2410, height: 990, overflow: "hidden", background: "#ffffff" }}>
      <canvas ref={leftRef} width={1010} height={990} style={{ position: "absolute", left: 0, top: 0, width: 1010, height: 990 }} />
      <canvas ref={rightRef} width={1040} height={990} style={{ position: "absolute", left: 1010, top: 0, width: 1040, height: 990 }} />
      <Callouts />
    </div>
  );
}
